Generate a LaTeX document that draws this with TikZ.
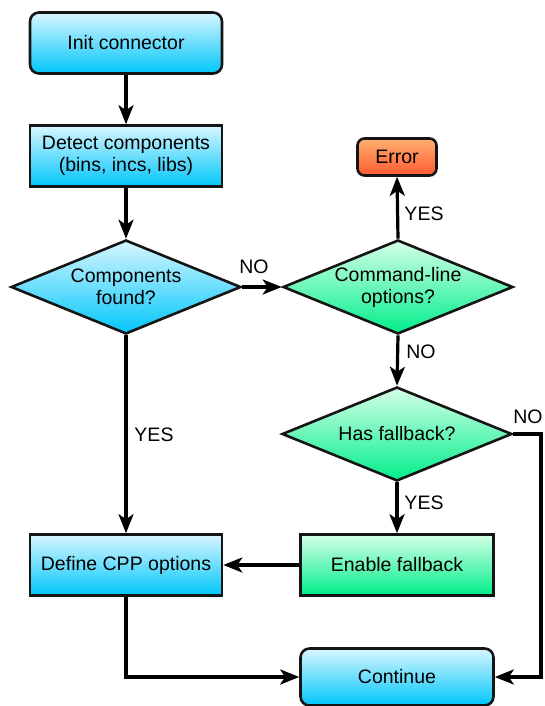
\documentclass[tikz,border=0pt]{standalone}
\usepackage{fontspec}
\setmainfont{Liberation Sans}
\usetikzlibrary{shapes.geometric,arrows.meta}
\definecolor{bluetop}{HTML}{D8F6FF}
\definecolor{bluebot}{HTML}{00C6FA}
\definecolor{greentop}{HTML}{D6FFE8}
\definecolor{greenbot}{HTML}{00EE8A}
\definecolor{orangetop}{HTML}{FFB070}
\definecolor{orangebot}{HTML}{FF5A30}
\definecolor{edge}{HTML}{151515}
\tikzset{
  base/.style={draw=edge, line width=2.6pt, align=center, font=\fontsize{19.5}{22}\selectfont, text=black, inner sep=0pt},
  bluefill/.style={top color=bluetop, bottom color=bluebot},
  greenfill/.style={top color=greentop, bottom color=greenbot},
  orangefill/.style={top color=orangetop, bottom color=orangebot},
  term/.style={base, rectangle, rounded corners=9pt, minimum width=192pt, minimum height=61pt},
  proc/.style={base, rectangle, minimum width=192pt, minimum height=61pt},
  dec/.style={base, diamond, shape aspect=2.45, minimum width=230pt, minimum height=94pt},
  conn/.style={line width=3.2pt, draw=black, -{Stealth[length=19pt,width=15pt,inset=5pt]}},
  lbl/.style={font=\fontsize{19.5}{22}\selectfont, text=black, inner sep=0pt}
}
\begin{document}
\begin{tikzpicture}[x=1pt,y=1pt]
\useasboundingbox (0,0) rectangle (544,-706);
\node[term, bluefill] (init) at (126,-43) {Init connector};
\node[proc, bluefill] (detect) at (126,-156) {Detect components\\(bins, incs, libs)};
\node[dec, bluefill] (found) at (126,-287) {Components\\found?};
\node[term, orangefill, minimum width=79pt, minimum height=37pt, rounded corners=7pt] (error) at (397,-157) {Error};
\node[dec, greenfill] (cmd) at (398,-287) {Command-line\\options?};
\node[dec, greenfill] (fb) at (397,-434) {Has fallback?};
\node[proc, greenfill, minimum width=193pt] (enable) at (397,-565) {Enable fallback};
\node[proc, bluefill] (define) at (126,-565) {Define CPP options};
\node[term, bluefill, minimum width=193pt, minimum height=57pt] (cont) at (397,-677) {Continue};
\coordinate (rt) at (541,-434);
\coordinate (rb) at (541,-677);
\coordinate (lb) at (126,-677);
\draw[conn] (init) -- (detect);
\draw[conn] (detect) -- (found);
\draw[conn] (found.east) -- (cmd.west);
\draw[conn] (cmd.north) -- (error.south);
\draw[conn] (cmd.south) -- (fb.north);
\draw[conn] (fb.south) -- (enable.north);
\draw[conn] (found.south) -- (define.north);
\draw[conn] (enable.west) -- (define.east);
\draw[conn] (define.south) -- (lb) -- (cont.west);
\draw[conn] (fb.east) -- (rt) -- (rb) -- (cont.east);
\node[lbl] (l1) at (254,-267) {NO};
\node[lbl] (l2) at (424,-214) {YES};
\node[lbl] (l3) at (421,-352) {NO};
\node[lbl] (l4) at (154,-435) {YES};
\node[lbl] (l5) at (528,-417) {NO};
\node[lbl] (l6) at (424,-503) {YES};
\end{tikzpicture}
\end{document}
